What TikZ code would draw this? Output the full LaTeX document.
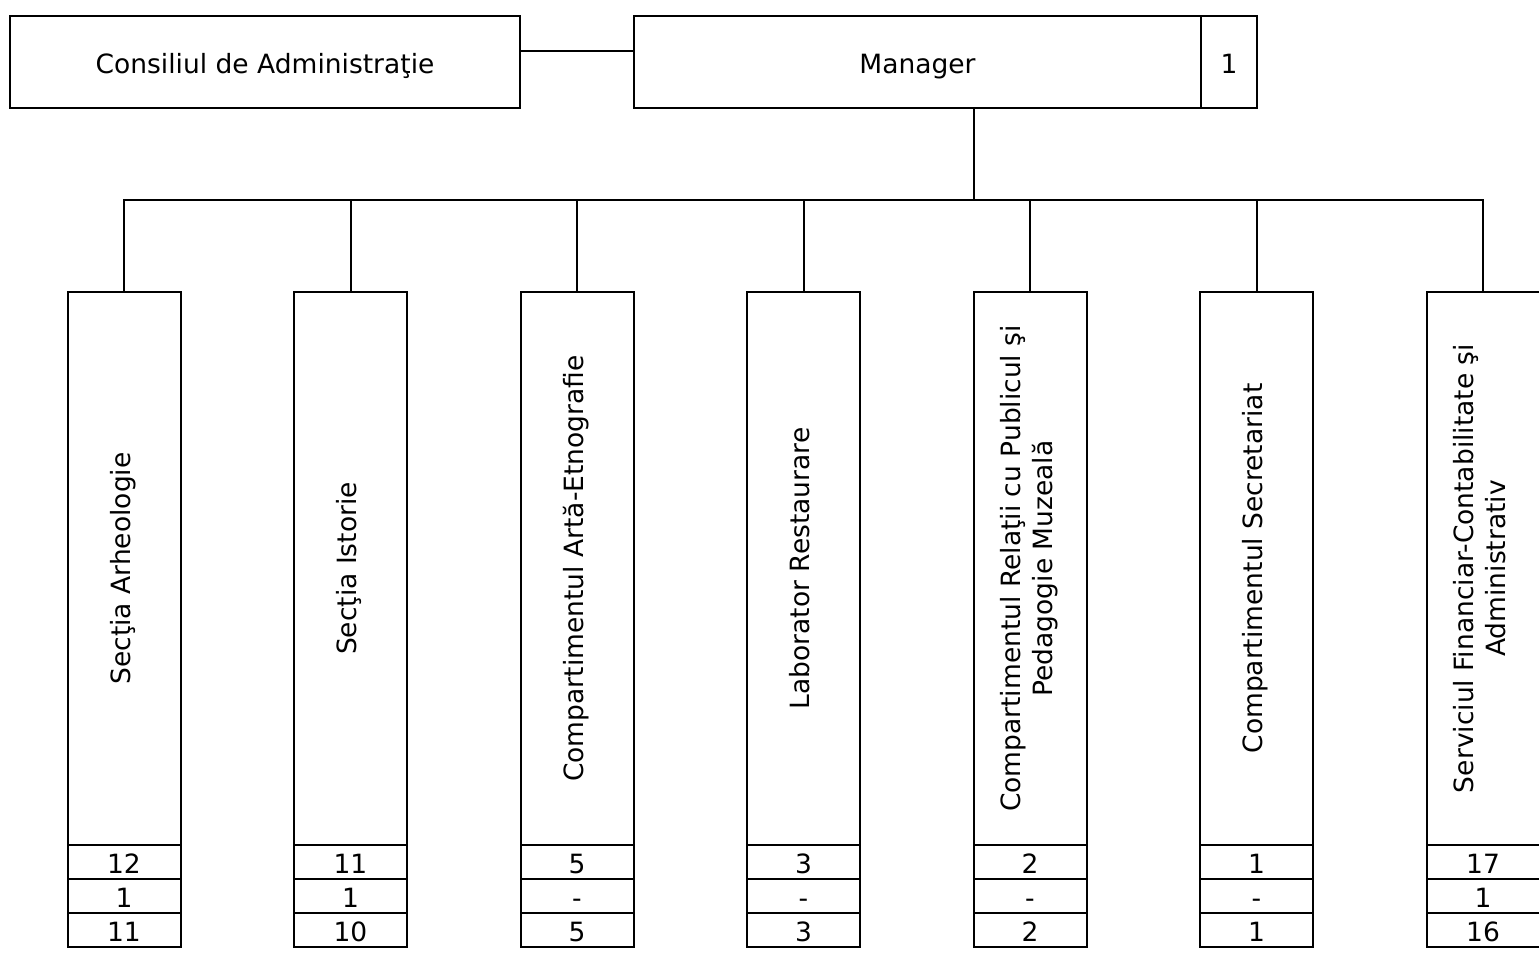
\documentclass[tikz,border=0pt]{standalone}
\usepackage{fontspec}
\setmainfont{DejaVu Sans}
\usepackage{graphicx}
\usetikzlibrary{positioning}

\newcommand{\verttext}[1]{\rotatebox{90}{\begin{tabular}{@{}c@{}}#1\end{tabular}}}

\begin{document}
\begin{tikzpicture}[x=1pt,y=-1pt,line width=2pt,node distance=113.5pt,
    font=\fontsize{26.5}{32}\selectfont,
    box/.style={draw,rectangle,outer sep=0pt,inner sep=0pt,minimum height=92pt,text height=24pt,text depth=2pt},
    dept/.style={draw,rectangle,outer sep=0pt,inner sep=0pt,minimum width=113pt,minimum height=553pt},
    cell/.style={draw,rectangle,outer sep=0pt,inner sep=0pt,minimum width=113pt,minimum height=34pt,text height=24pt,text depth=2pt}]
  \useasboundingbox (0,0) rectangle (1539,954);
  % conducere
  \node[box,minimum width=510pt] (cons) at (265,62) {Consiliul de Administraţie};
  \node[box,minimum width=567pt] (mgr) at (917.5,62) {Manager};
  \node[box,minimum width=56pt] (mgrnr) [right=0pt of mgr] {1};
  \coordinate (hub) at (974,200);
  % compartimente
  \node[dept] (d1) at (124,568.5) {\verttext{Secţia Arheologie}};
  \node[dept] (d2) [right=of d1] {\verttext{Secţia Istorie}};
  \node[dept] (d3) [right=of d2] {\verttext{Compartimentul Artă-Etnografie}};
  \node[dept] (d4) [right=of d3] {\verttext{Laborator Restaurare}};
  \node[dept] (d5) [right=of d4] {\verttext{Compartimentul Relaţii cu Publicul şi\\Pedagogie Muzeală}};
  \node[dept] (d6) [right=of d5] {\verttext{Compartimentul Secretariat}};
  \node[dept] (d7) [right=of d6] {\verttext{Serviciul Financiar-Contabilitate şi\\Administrativ}};
  % posturi
  \node[cell] (d1a) [below=0pt of d1] {12};
  \node[cell] (d1b) [below=0pt of d1a] {1};
  \node[cell] (d1c) [below=0pt of d1b] {11};
  \node[cell] (d2a) [below=0pt of d2] {11};
  \node[cell] (d2b) [below=0pt of d2a] {1};
  \node[cell] (d2c) [below=0pt of d2b] {10};
  \node[cell] (d3a) [below=0pt of d3] {5};
  \node[cell] (d3b) [below=0pt of d3a] {-};
  \node[cell] (d3c) [below=0pt of d3b] {5};
  \node[cell] (d4a) [below=0pt of d4] {3};
  \node[cell] (d4b) [below=0pt of d4a] {-};
  \node[cell] (d4c) [below=0pt of d4b] {3};
  \node[cell] (d5a) [below=0pt of d5] {2};
  \node[cell] (d5b) [below=0pt of d5a] {-};
  \node[cell] (d5c) [below=0pt of d5b] {2};
  \node[cell] (d6a) [below=0pt of d6] {1};
  \node[cell] (d6b) [below=0pt of d6a] {-};
  \node[cell] (d6c) [below=0pt of d6b] {1};
  \node[cell] (d7a) [below=0pt of d7] {17};
  \node[cell] (d7b) [below=0pt of d7a] {1};
  \node[cell] (d7c) [below=0pt of d7b] {16};
  % legaturi
  \draw ([yshift=11pt]cons.east) -- ([yshift=11pt]mgr.west);
  \draw (mgr.south -| hub) -- (hub);
  \draw (d1.north) |- (hub) -| (d7.north);
  \path[draw]
    (d2.north) edge (d2.north |- hub)
    (d3.north) edge (d3.north |- hub)
    (d4.north) edge (d4.north |- hub)
    (d5.north) edge (d5.north |- hub)
    (d6.north) edge (d6.north |- hub);
\end{tikzpicture}
\end{document}
